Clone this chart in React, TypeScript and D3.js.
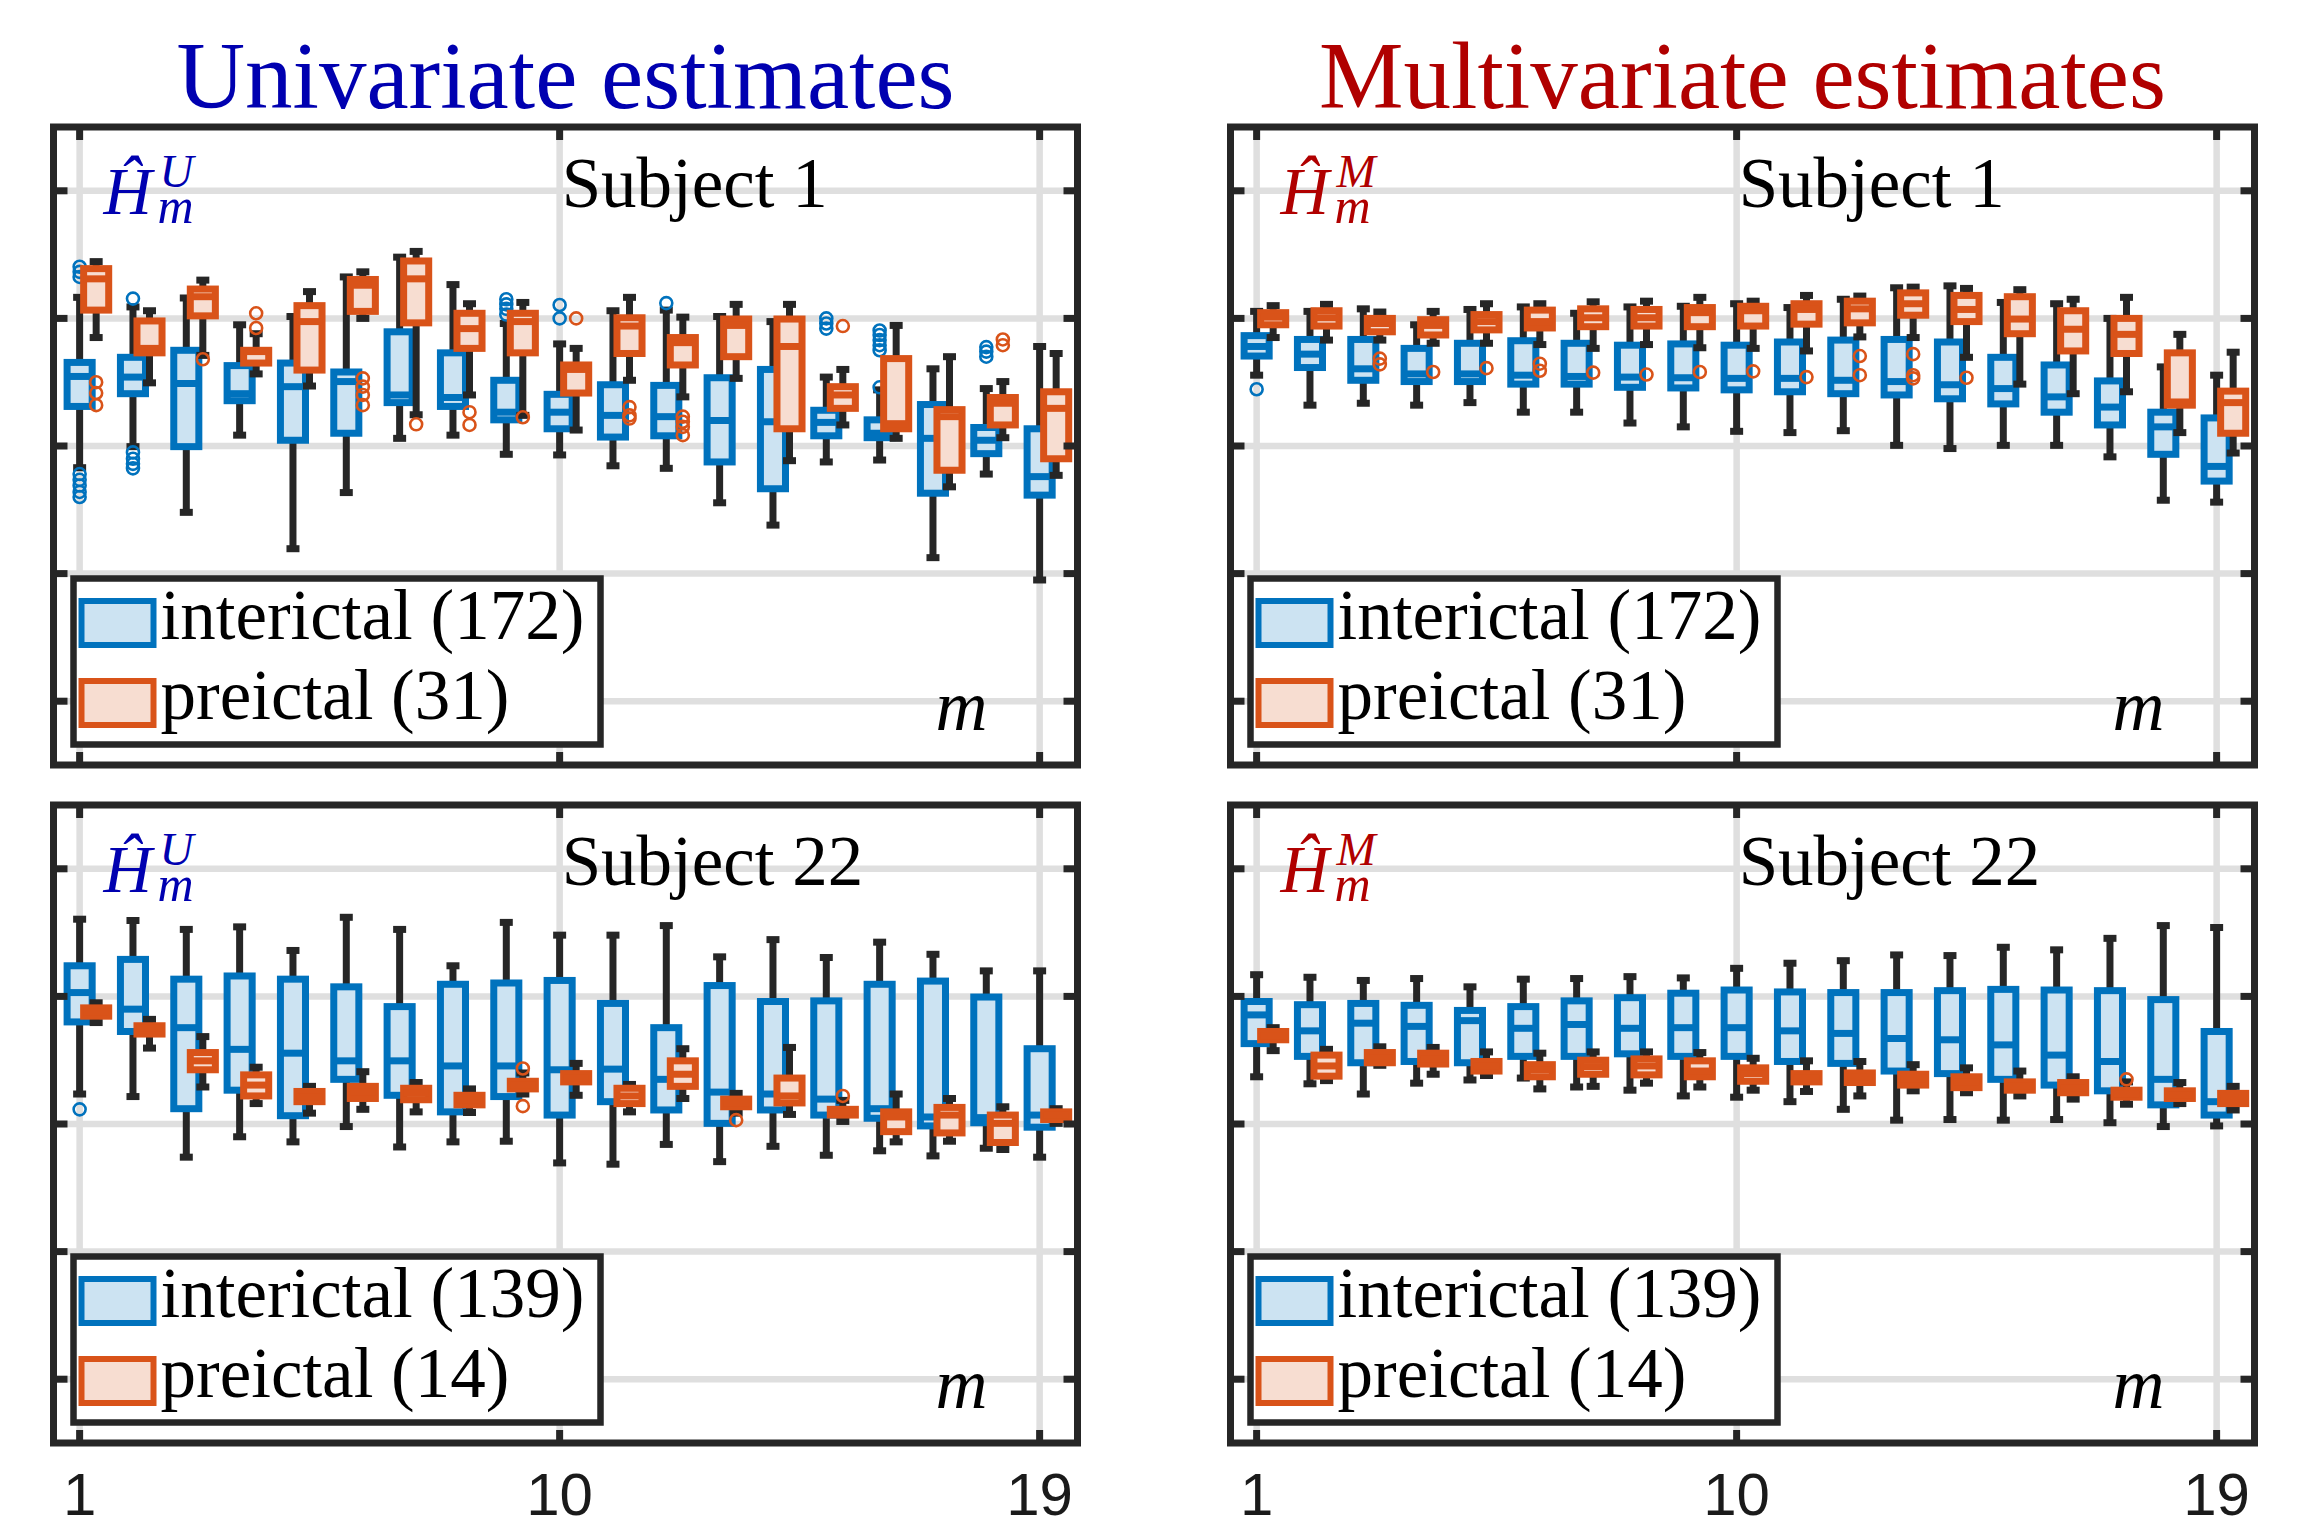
import React from 'react';
import * as d3 from 'd3';

// box statistics per m: [lower whisker, q1, median, q3, upper whisker]
type Stat = [number, number, number, number, number];
type Outlier = [number, number]; // [m, value]

const mValues = d3.range(1, 20);
const xTicks = [1, 10, 19];
const yTicks = [0.2, 0.4, 0.6, 0.8, 1.0];

// Univariate, Subject 1
const uniS1Inter: Stat[] = [
  [0.566, 0.662, 0.709, 0.731, 0.833], [0.599, 0.682, 0.708, 0.739, 0.818],
  [0.496, 0.599, 0.698, 0.750, 0.832], [0.617, 0.671, 0.682, 0.726, 0.790],
  [0.439, 0.609, 0.693, 0.730, 0.803], [0.527, 0.620, 0.701, 0.716, 0.865],
  [0.612, 0.668, 0.680, 0.779, 0.896], [0.617, 0.662, 0.676, 0.746, 0.853],
  [0.587, 0.641, 0.653, 0.703, 0.792], [0.586, 0.627, 0.653, 0.681, 0.760],
  [0.569, 0.614, 0.648, 0.696, 0.812], [0.565, 0.616, 0.646, 0.695, 0.813],
  [0.511, 0.575, 0.640, 0.707, 0.803], [0.476, 0.533, 0.638, 0.720, 0.795],
  [0.575, 0.616, 0.637, 0.656, 0.708], [0.578, 0.613, 0.620, 0.641, 0.688],
  [0.425, 0.526, 0.612, 0.665, 0.721], [0.556, 0.588, 0.609, 0.629, 0.690],
  [0.390, 0.523, 0.552, 0.627, 0.756],
];
const uniS1Pre: Stat[] = [
  [0.770, 0.813, 0.862, 0.878, 0.889], [0.699, 0.746, 0.753, 0.796, 0.812],
  [0.742, 0.804, 0.834, 0.846, 0.860], [0.713, 0.730, 0.748, 0.750, 0.776],
  [0.694, 0.719, 0.795, 0.820, 0.842], [0.800, 0.811, 0.852, 0.861, 0.873],
  [0.649, 0.793, 0.862, 0.890, 0.905], [0.680, 0.753, 0.784, 0.808, 0.823],
  [0.648, 0.746, 0.795, 0.808, 0.825], [0.625, 0.683, 0.720, 0.727, 0.753],
  [0.703, 0.745, 0.788, 0.801, 0.833], [0.677, 0.727, 0.762, 0.770, 0.802],
  [0.706, 0.740, 0.789, 0.799, 0.822], [0.577, 0.627, 0.756, 0.799, 0.822],
  [0.633, 0.659, 0.680, 0.693, 0.720], [0.612, 0.627, 0.635, 0.737, 0.789],
  [0.536, 0.562, 0.646, 0.657, 0.740], [0.613, 0.633, 0.667, 0.676, 0.701],
  [0.554, 0.580, 0.659, 0.685, 0.745],
];
const uniS1InterOut: Outlier[] = [
  [1, 0.881], [1, 0.873], [1, 0.865], [1, 0.556], [1, 0.547], [1, 0.538], [1, 0.528], [1, 0.520],
  [2, 0.831], [2, 0.590], [2, 0.580], [2, 0.572], [2, 0.565],
  [9, 0.830], [9, 0.822], [9, 0.815], [9, 0.806], [10, 0.821], [10, 0.800], [12, 0.824],
  [15, 0.800], [15, 0.792], [15, 0.784],
  [16, 0.692], [16, 0.781], [16, 0.774], [16, 0.766], [16, 0.758], [16, 0.750],
  [18, 0.755], [18, 0.748], [18, 0.740],
];
const uniS1PreOut: Outlier[] = [
  [1, 0.700], [1, 0.683], [1, 0.664], [3, 0.736], [4, 0.808], [4, 0.785],
  [6, 0.706], [6, 0.693], [6, 0.680], [6, 0.664], [7, 0.634], [8, 0.653], [8, 0.633],
  [9, 0.645], [10, 0.800], [11, 0.661], [11, 0.648], [11, 0.643],
  [12, 0.646], [12, 0.638], [12, 0.630], [12, 0.617], [15, 0.788], [18, 0.767], [18, 0.758],
];

// Multivariate, Subject 1
const multiS1Inter: Stat[] = [
  [0.711, 0.741, 0.756, 0.773, 0.811], [0.664, 0.723, 0.744, 0.767, 0.811],
  [0.667, 0.703, 0.721, 0.767, 0.815], [0.664, 0.701, 0.713, 0.753, 0.790],
  [0.668, 0.701, 0.713, 0.761, 0.814], [0.653, 0.697, 0.711, 0.765, 0.818],
  [0.653, 0.697, 0.709, 0.761, 0.808], [0.636, 0.692, 0.708, 0.758, 0.818],
  [0.630, 0.691, 0.707, 0.760, 0.819], [0.623, 0.688, 0.706, 0.758, 0.823],
  [0.621, 0.685, 0.706, 0.763, 0.817], [0.624, 0.682, 0.703, 0.766, 0.830],
  [0.601, 0.680, 0.701, 0.767, 0.848], [0.596, 0.674, 0.696, 0.763, 0.851],
  [0.601, 0.666, 0.690, 0.739, 0.825], [0.601, 0.653, 0.677, 0.727, 0.823],
  [0.583, 0.633, 0.661, 0.702, 0.800], [0.515, 0.587, 0.630, 0.653, 0.724],
  [0.512, 0.545, 0.568, 0.644, 0.711],
];
const multiS1Pre: Stat[] = [
  [0.770, 0.790, 0.802, 0.809, 0.820], [0.766, 0.788, 0.801, 0.812, 0.822],
  [0.766, 0.779, 0.792, 0.800, 0.810], [0.761, 0.774, 0.789, 0.798, 0.811],
  [0.761, 0.782, 0.795, 0.806, 0.823], [0.759, 0.785, 0.795, 0.813, 0.823],
  [0.753, 0.787, 0.801, 0.815, 0.826], [0.759, 0.788, 0.801, 0.814, 0.827],
  [0.754, 0.787, 0.809, 0.817, 0.833], [0.753, 0.788, 0.812, 0.819, 0.827],
  [0.749, 0.791, 0.814, 0.823, 0.836], [0.771, 0.793, 0.815, 0.827, 0.835],
  [0.770, 0.805, 0.823, 0.840, 0.849], [0.739, 0.795, 0.814, 0.836, 0.847],
  [0.697, 0.776, 0.799, 0.834, 0.845], [0.682, 0.749, 0.783, 0.812, 0.830],
  [0.685, 0.745, 0.775, 0.800, 0.833], [0.621, 0.664, 0.669, 0.746, 0.775],
  [0.589, 0.620, 0.668, 0.686, 0.747],
];
const multiS1InterOut: Outlier[] = [[1, 0.689]];
const multiS1PreOut: Outlier[] = [
  [3, 0.737], [3, 0.728], [4, 0.716], [5, 0.722], [6, 0.729], [6, 0.718], [7, 0.715],
  [8, 0.712], [9, 0.716], [10, 0.717], [11, 0.708], [12, 0.741], [12, 0.711],
  [13, 0.744], [13, 0.711], [13, 0.706], [14, 0.707],
];

// Univariate, Subject 22
const uniS22Inter: Stat[] = [
  [0.647, 0.760, 0.806, 0.848, 0.921], [0.643, 0.745, 0.780, 0.858, 0.919],
  [0.548, 0.624, 0.751, 0.827, 0.905], [0.580, 0.653, 0.717, 0.832, 0.909],
  [0.572, 0.613, 0.711, 0.827, 0.872], [0.596, 0.670, 0.699, 0.815, 0.924],
  [0.564, 0.645, 0.699, 0.784, 0.905], [0.572, 0.619, 0.691, 0.819, 0.848],
  [0.573, 0.643, 0.691, 0.821, 0.916], [0.539, 0.614, 0.685, 0.825, 0.896],
  [0.537, 0.635, 0.686, 0.789, 0.896], [0.568, 0.622, 0.670, 0.751, 0.911],
  [0.541, 0.601, 0.650, 0.817, 0.862], [0.565, 0.622, 0.647, 0.792, 0.889],
  [0.551, 0.614, 0.639, 0.793, 0.861], [0.558, 0.609, 0.624, 0.819, 0.885],
  [0.550, 0.597, 0.611, 0.824, 0.866], [0.562, 0.602, 0.610, 0.799, 0.840],
  [0.548, 0.595, 0.614, 0.718, 0.840],
];
const uniS22Pre: Stat[] = [
  [0.759, 0.769, 0.776, 0.782, 0.790], [0.719, 0.741, 0.750, 0.754, 0.764],
  [0.658, 0.685, 0.699, 0.712, 0.737], [0.632, 0.644, 0.661, 0.677, 0.689],
  [0.617, 0.635, 0.643, 0.651, 0.659], [0.623, 0.640, 0.650, 0.659, 0.682],
  [0.619, 0.638, 0.648, 0.656, 0.665], [0.618, 0.630, 0.637, 0.645, 0.655],
  [0.647, 0.655, 0.661, 0.667, 0.680], [0.645, 0.666, 0.672, 0.679, 0.695],
  [0.619, 0.632, 0.644, 0.656, 0.662], [0.640, 0.659, 0.678, 0.699, 0.718],
  [0.617, 0.627, 0.633, 0.639, 0.648], [0.615, 0.633, 0.644, 0.672, 0.720],
  [0.604, 0.614, 0.619, 0.623, 0.637], [0.572, 0.588, 0.611, 0.619, 0.647],
  [0.573, 0.586, 0.614, 0.626, 0.640], [0.560, 0.571, 0.601, 0.614, 0.627],
  [0.601, 0.607, 0.614, 0.619, 0.624],
];
const uniS22InterOut: Outlier[] = [[1, 0.623]];
const uniS22PreOut: Outlier[] = [[9, 0.687], [9, 0.628], [13, 0.606], [15, 0.644]];

// Multivariate, Subject 22
const multiS22Inter: Stat[] = [
  [0.674, 0.726, 0.771, 0.792, 0.834], [0.663, 0.706, 0.746, 0.787, 0.830],
  [0.647, 0.696, 0.758, 0.789, 0.825], [0.664, 0.698, 0.753, 0.786, 0.828],
  [0.669, 0.696, 0.762, 0.778, 0.815], [0.672, 0.706, 0.750, 0.784, 0.827],
  [0.658, 0.706, 0.756, 0.793, 0.828], [0.653, 0.710, 0.750, 0.798, 0.831],
  [0.644, 0.706, 0.751, 0.805, 0.829], [0.642, 0.706, 0.751, 0.810, 0.844],
  [0.635, 0.698, 0.746, 0.807, 0.852], [0.623, 0.695, 0.742, 0.806, 0.856],
  [0.606, 0.683, 0.734, 0.806, 0.865], [0.607, 0.679, 0.732, 0.809, 0.864],
  [0.606, 0.670, 0.724, 0.811, 0.877], [0.607, 0.661, 0.708, 0.810, 0.873],
  [0.602, 0.652, 0.698, 0.809, 0.891], [0.596, 0.630, 0.670, 0.795, 0.911],
  [0.597, 0.614, 0.635, 0.745, 0.908],
];
const multiS22Pre: Stat[] = [
  [0.715, 0.732, 0.738, 0.745, 0.751], [0.668, 0.675, 0.691, 0.708, 0.717],
  [0.692, 0.696, 0.704, 0.712, 0.721], [0.678, 0.694, 0.702, 0.711, 0.720],
  [0.676, 0.683, 0.691, 0.698, 0.713], [0.655, 0.674, 0.685, 0.693, 0.711],
  [0.659, 0.678, 0.690, 0.700, 0.713], [0.664, 0.677, 0.691, 0.702, 0.713],
  [0.658, 0.674, 0.683, 0.699, 0.712], [0.653, 0.667, 0.679, 0.688, 0.703],
  [0.651, 0.666, 0.672, 0.679, 0.699], [0.644, 0.665, 0.674, 0.680, 0.698],
  [0.652, 0.661, 0.670, 0.678, 0.693], [0.649, 0.657, 0.666, 0.674, 0.688],
  [0.644, 0.653, 0.659, 0.666, 0.683], [0.639, 0.649, 0.657, 0.665, 0.674],
  [0.631, 0.642, 0.647, 0.653, 0.666], [0.632, 0.640, 0.646, 0.652, 0.665],
  [0.622, 0.632, 0.640, 0.648, 0.659],
];
const multiS22InterOut: Outlier[] = [];
const multiS22PreOut: Outlier[] = [[17, 0.670]];

const BLUE = '#0072BD';
const BLUE_FILL = '#CCE3F2';
const ORANGE = '#D95319';
const ORANGE_FILL = '#F7DDD1';
const DARK = '#262626';
const GRID = '#DFDFDF';
const SERIF = "'Liberation Serif', 'Times New Roman', serif";
const SANS = "'Liberation Sans', Arial, Helvetica, sans-serif";

const PW = 1024;
const PH = 638;
const PRE_SHIFT = 0.31;
const HALF_BOX = 0.235;

const panels = [
  { left: 53.5, top: 127, sup: 'U', color: '#0000B0', subject: 'Subject 1', inter: uniS1Inter, pre: uniS1Pre, interOut: uniS1InterOut, preOut: uniS1PreOut, nInter: 172, nPre: 31 },
  { left: 1230.5, top: 127, sup: 'M', color: '#B00000', subject: 'Subject 1', inter: multiS1Inter, pre: multiS1Pre, interOut: multiS1InterOut, preOut: multiS1PreOut, nInter: 172, nPre: 31 },
  { left: 53.5, top: 805, sup: 'U', color: '#0000B0', subject: 'Subject 22', inter: uniS22Inter, pre: uniS22Pre, interOut: uniS22InterOut, preOut: uniS22PreOut, nInter: 139, nPre: 14 },
  { left: 1230.5, top: 805, sup: 'M', color: '#B00000', subject: 'Subject 22', inter: multiS22Inter, pre: multiS22Pre, interOut: multiS22InterOut, preOut: multiS22PreOut, nInter: 139, nPre: 14 },
];

function Boxes({ stats, outliers, shift, x, y, stroke, fill }: any) {
  return (
    <g>
      {stats.map((s: Stat, i: number) => {
        const m = mValues[i];
        const cx = x(m + shift);
        const hw = x(m + shift + HALF_BOX) - cx;
        const [lo, q1, med, q3, hi] = s;
        return (
          <g key={i}>
            <line x1={cx} x2={cx} y1={y(lo)} y2={y(hi)} stroke={DARK} strokeWidth={7} />
            <line x1={cx - 6.5} x2={cx + 6.5} y1={y(lo)} y2={y(lo)} stroke={DARK} strokeWidth={7} />
            <line x1={cx - 6.5} x2={cx + 6.5} y1={y(hi)} y2={y(hi)} stroke={DARK} strokeWidth={7} />
            <rect x={cx - hw} y={y(q3)} width={2 * hw} height={y(q1) - y(q3)} fill={fill} stroke={stroke} strokeWidth={7} />
            <line x1={cx - hw} x2={cx + hw} y1={y(med)} y2={y(med)} stroke={stroke} strokeWidth={7} />
          </g>
        );
      })}
      {outliers.map((o: Outlier, i: number) => (
        <circle key={'o' + i} cx={x(o[0] + shift)} cy={y(o[1])} r={6} fill="none" stroke={stroke} strokeWidth={2.6} />
      ))}
    </g>
  );
}

function Panel({ p }: any) {
  const x = d3.scaleLinear().domain([0.51, 19.71]).range([p.left, p.left + PW]);
  const y = d3.scaleLinear().domain([0.1, 1.1]).range([p.top + PH, p.top]);
  const right = p.left + PW;
  const bottom = p.top + PH;
  const lgX = p.left + 20;
  const lgY = p.top + 451.5;
  return (
    <g>
      {yTicks.map((t) => (
        <line key={'gy' + t} x1={p.left} x2={right} y1={y(t)} y2={y(t)} stroke={GRID} strokeWidth={6.5} />
      ))}
      {xTicks.map((t) => (
        <line key={'gx' + t} x1={x(t)} x2={x(t)} y1={p.top} y2={bottom} stroke={GRID} strokeWidth={6.5} />
      ))}
      <Boxes stats={p.inter} outliers={p.interOut} shift={0} x={x} y={y} stroke={BLUE} fill={BLUE_FILL} />
      <Boxes stats={p.pre} outliers={p.preOut} shift={PRE_SHIFT} x={x} y={y} stroke={ORANGE} fill={ORANGE_FILL} />
      {yTicks.map((t) => (
        <g key={'ty' + t}>
          <line x1={p.left} x2={p.left + 14} y1={y(t)} y2={y(t)} stroke={DARK} strokeWidth={7} />
          <line x1={right - 14} x2={right} y1={y(t)} y2={y(t)} stroke={DARK} strokeWidth={7} />
        </g>
      ))}
      {xTicks.map((t) => (
        <g key={'tx' + t}>
          <line x1={x(t)} x2={x(t)} y1={p.top} y2={p.top + 13} stroke={DARK} strokeWidth={7} />
          <line x1={x(t)} x2={x(t)} y1={bottom - 13} y2={bottom} stroke={DARK} strokeWidth={7} />
        </g>
      ))}
      <rect x={p.left} y={p.top} width={PW} height={PH} fill="none" stroke={DARK} strokeWidth={7} />

      {/* estimator symbol, one text element with sup/sub parts */}
      <text fontFamily={SERIF} fontStyle="italic" fill={p.color}>
        <tspan x={p.left + 50} y={p.top + 87} fontSize={67}>Ĥ</tspan>
        <tspan x={p.left + 106} y={p.top + 60} fontSize={47}>{p.sup}</tspan>
        <tspan x={p.left + 104} y={p.top + 96} fontSize={50}>m</tspan>
      </text>

      <text x={x(10) + 2} y={p.top + 80} fontFamily={SERIF} fontSize={71} fill="#000">{p.subject}</text>
      <text x={right - 142} y={bottom - 35} fontFamily={SERIF} fontStyle="italic" fontSize={72} fill="#000">m</text>

      <rect x={lgX} y={lgY} width={527} height={166} fill="#fff" stroke={DARK} strokeWidth={6.5} />
      <rect x={p.left + 28} y={p.top + 474} width={72} height={44} fill={BLUE_FILL} stroke={BLUE} strokeWidth={6} />
      <rect x={p.left + 28} y={p.top + 554} width={72} height={44} fill={ORANGE_FILL} stroke={ORANGE} strokeWidth={6} />
      <text x={p.left + 107} y={p.top + 512} fontFamily={SERIF} fontSize={71} fill="#000">{`interictal (${p.nInter})`}</text>
      <text x={p.left + 107} y={p.top + 592} fontFamily={SERIF} fontSize={71} fill="#000">{`preictal (${p.nPre})`}</text>
    </g>
  );
}

export default function App() {
  const xBottom = d3.scaleLinear().domain([0.51, 19.71]).range([0, PW]);
  return (
    <svg width={2299} height={1529} style={{ position: 'absolute', left: 0, top: 0, background: '#fff' }}>
      <rect width={2299} height={1529} fill="#fff" />
      <text x={53.5 + PW / 2} y={108} textAnchor="middle" fontFamily={SERIF} fontSize={95} fill="#0000B0">Univariate estimates</text>
      <text x={1230.5 + PW / 2} y={108} textAnchor="middle" fontFamily={SERIF} fontSize={95} fill="#B00000">Multivariate estimates</text>
      {panels.map((p, i) => <Panel key={i} p={p} />)}
      {[53.5, 1230.5].map((l) =>
        xTicks.map((t) => (
          <text key={l + '-' + t} x={l + xBottom(t)} y={1515} textAnchor="middle" fontFamily={SANS} fontSize={60} fill="#1a1a1a">{t}</text>
        ))
      )}
    </svg>
  );
}
